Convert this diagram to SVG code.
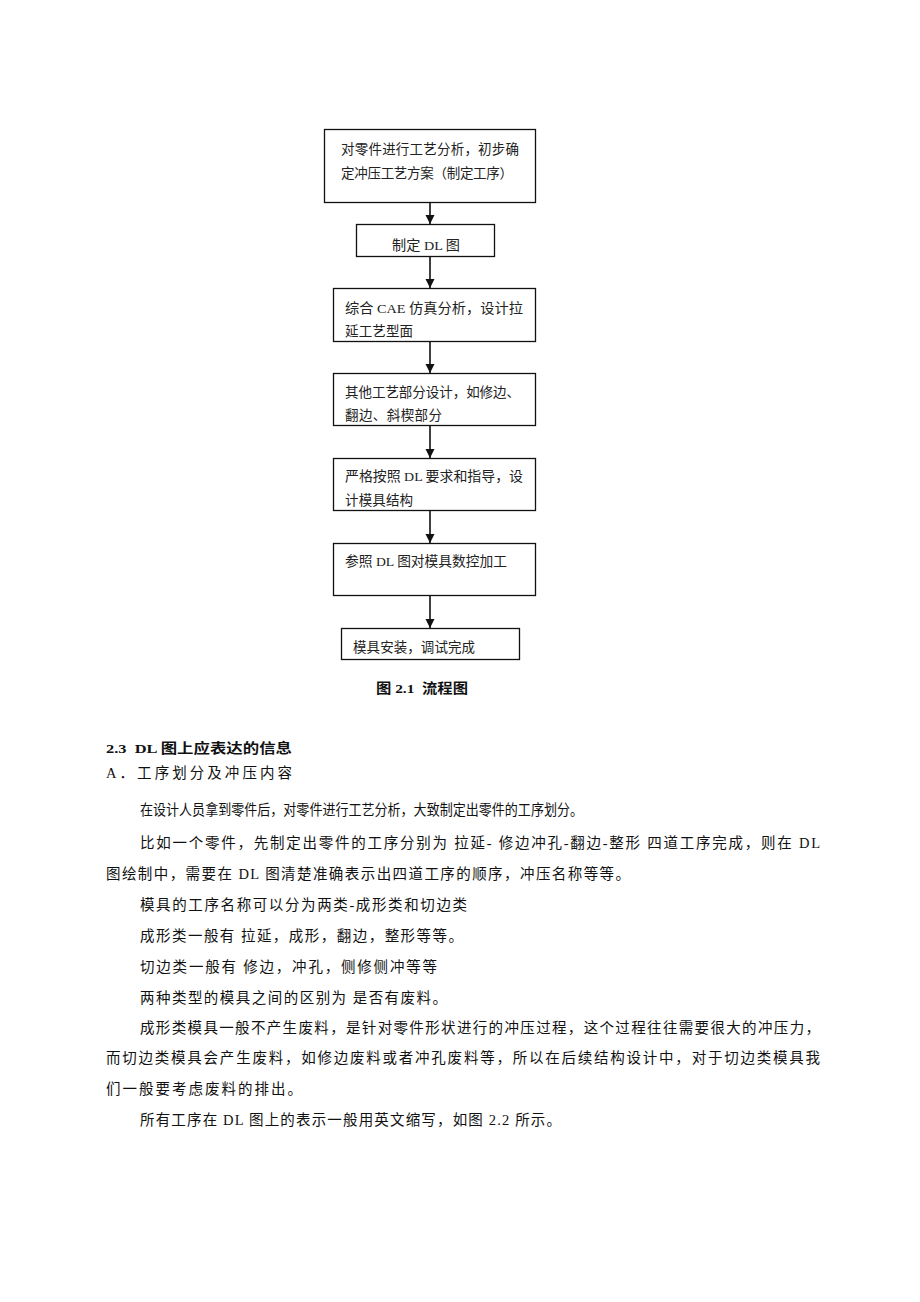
<svg xmlns="http://www.w3.org/2000/svg" width="920" height="1302" viewBox="0 0 920 1302">
<style>
.box{fill:#fff;stroke:#111;stroke-width:1.3}
.bt{font-family:"Liberation Serif","Noto Sans CJK SC",serif;font-size:13.5px;fill:#222}
.body{font-family:"Liberation Serif","Noto Sans CJK SC",serif;font-size:14.5px;fill:#111}
.bold{font-family:"Liberation Serif","Noto Sans CJK SC",serif;font-size:13.5px;font-weight:bold;fill:#111;white-space:pre}
.conn{stroke:#111;stroke-width:1.6;fill:none}
</style>
<defs>
<marker id="ah" markerWidth="10" markerHeight="10" refX="9" refY="5" orient="auto" markerUnits="userSpaceOnUse">
<path d="M0,0.5 L9,5 L0,9.5 Z" fill="#111"/>
</marker>
</defs>
<rect width="920" height="1302" fill="#fff"/>
<g id="connectors">
<line class="conn" x1="430" y1="203" x2="430" y2="224" marker-end="url(#ah)"/>
<line class="conn" x1="430" y1="257" x2="430" y2="288" marker-end="url(#ah)"/>
<line class="conn" x1="430" y1="341" x2="430" y2="373" marker-end="url(#ah)"/>
<line class="conn" x1="430" y1="426" x2="430" y2="458" marker-end="url(#ah)"/>
<line class="conn" x1="430" y1="511" x2="430" y2="543" marker-end="url(#ah)"/>
<line class="conn" x1="430" y1="596" x2="430" y2="628" marker-end="url(#ah)"/>
</g>
<g id="n1">
<rect class="box" x="324.5" y="129.5" width="211" height="73"/>
<text class="bt" x="341" y="154" textLength="178" lengthAdjust="spacing">对零件进行工艺分析，初步确</text>
<text class="bt" x="341" y="178" textLength="172" lengthAdjust="spacing">定冲压工艺方案（制定工序）</text>
</g>
<g id="n2">
<rect class="box" x="356.5" y="224.5" width="138" height="32"/>
<text class="bt" x="392" y="250" textLength="68" lengthAdjust="spacingAndGlyphs">制定 DL 图</text>
</g>
<g id="n3">
<rect class="box" x="333.5" y="288.5" width="202" height="53"/>
<text class="bt" x="345" y="313" textLength="178" lengthAdjust="spacingAndGlyphs">综合 CAE 仿真分析，设计拉</text>
<text class="bt" x="345" y="336" textLength="68" lengthAdjust="spacing">延工艺型面</text>
</g>
<g id="n4">
<rect class="box" x="333.5" y="373.5" width="202" height="52"/>
<text class="bt" x="345" y="397" textLength="175" lengthAdjust="spacing">其他工艺部分设计，如修边、</text>
<text class="bt" x="345" y="420" textLength="97" lengthAdjust="spacing">翻边、斜楔部分</text>
</g>
<g id="n5">
<rect class="box" x="333.5" y="458.5" width="202" height="52"/>
<text class="bt" x="345" y="481" textLength="178" lengthAdjust="spacingAndGlyphs">严格按照 DL 要求和指导，设</text>
<text class="bt" x="345" y="505" textLength="68" lengthAdjust="spacing">计模具结构</text>
</g>
<g id="n6">
<rect class="box" x="333.5" y="543.5" width="202" height="52"/>
<text class="bt" x="345" y="566" textLength="162" lengthAdjust="spacingAndGlyphs">参照 DL 图对模具数控加工</text>
</g>
<g id="n7">
<rect class="box" x="341.5" y="628.5" width="178" height="31"/>
<text class="bt" x="353" y="652" textLength="122" lengthAdjust="spacing">模具安装，调试完成</text>
</g>
<text class="bold" xml:space="preserve" x="376" y="693" textLength="92" lengthAdjust="spacingAndGlyphs">图 2.1  流程图</text>
<text class="bold" xml:space="preserve" x="106" y="753" textLength="186" lengthAdjust="spacingAndGlyphs">2.3  DL 图上应表达的信息</text>
<text class="body" x="106" y="778" textLength="186" lengthAdjust="spacing">A．工序划分及冲压内容</text>
<text class="body" x="140" y="815" textLength="443" lengthAdjust="spacingAndGlyphs">在设计人员拿到零件后，对零件进行工艺分析，大致制定出零件的工序划分。</text>
<text class="body" x="140" y="848" textLength="680" lengthAdjust="spacing">比如一个零件，先制定出零件的工序分别为 拉延- 修边冲孔-翻边-整形 四道工序完成，则在 DL</text>
<text class="body" x="106" y="879" textLength="524" lengthAdjust="spacing">图绘制中，需要在 DL 图清楚准确表示出四道工序的顺序，冲压名称等等。</text>
<text class="body" x="140" y="910" textLength="327" lengthAdjust="spacing">模具的工序名称可以分为两类-成形类和切边类</text>
<text class="body" x="140" y="941" textLength="323" lengthAdjust="spacing">成形类一般有 拉延，成形，翻边，整形等等。</text>
<text class="body" x="140" y="972" textLength="297" lengthAdjust="spacing">切边类一般有 修边，冲孔，侧修侧冲等等</text>
<text class="body" x="140" y="1003" textLength="307" lengthAdjust="spacing">两种类型的模具之间的区别为 是否有废料。</text>
<text class="body" x="140" y="1033" textLength="680" lengthAdjust="spacing">成形类模具一般不产生废料，是针对零件形状进行的冲压过程，这个过程往往需要很大的冲压力，</text>
<text class="body" x="106" y="1063" textLength="714" lengthAdjust="spacing">而切边类模具会产生废料，如修边废料或者冲孔废料等，所以在后续结构设计中，对于切边类模具我</text>
<text class="body" x="106" y="1094" textLength="196" lengthAdjust="spacing">们一般要考虑废料的排出。</text>
<text class="body" x="140" y="1125" textLength="421" lengthAdjust="spacing">所有工序在 DL 图上的表示一般用英文缩写，如图 2.2 所示。</text>
</svg>
